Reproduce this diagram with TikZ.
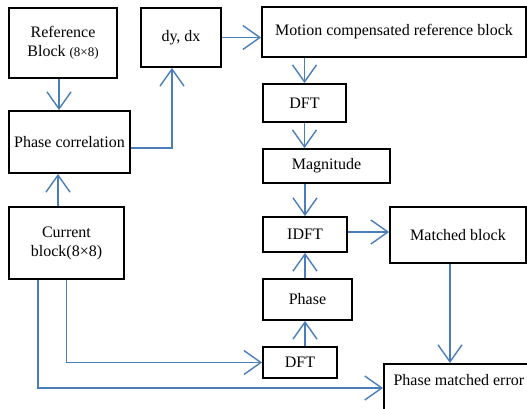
\documentclass[tikz,border=0pt]{standalone}
\usepackage{fontspec}
\setmainfont{Liberation Serif}
\usetikzlibrary{arrows.meta}
\definecolor{flowblue}{RGB}{74,126,187}
\begin{document}
\begin{tikzpicture}[x=1pt,y=-1pt,
  blk/.style={draw,line width=1.8pt,inner sep=0pt,align=center,
    font=\rmfamily\fontsize{16}{19}\selectfont},
  flow/.style={draw=flowblue,line width=1.4pt,
    -{Straight Barb[length=17pt,width=24pt]}}]
  \useasboundingbox (0,0) rectangle (527,408);
  \clip (0,0) rectangle (527,408);

  \node[blk,minimum width=108,minimum height=70] (ref) at (63,43)
    {Reference\\Block {\fontsize{13}{19}\selectfont(8×8)}};
  \node[blk,minimum width=121,minimum height=62] (pc) at (69.5,142) {Phase correlation};
  \node[blk,minimum width=115,minimum height=72] (cur) at (66.5,243) {Current\\block(8×8)};
  \node[blk,minimum width=80,minimum height=59] (dydx) at (181,37.5) {dy, dx};

  \node[blk,minimum width=264,minimum height=50] (mcrb) at (394,32)
    {Motion compensated reference block};
  \node[blk,minimum width=83,minimum height=38] (dftA) at (304.5,103) {DFT};
  \node[blk,minimum width=127,minimum height=34] (mag) at (326.5,166) {Magnitude};
  \node[blk,minimum width=84,minimum height=35] (idft) at (305,234.5) {IDFT};
  \node[blk,minimum width=89,minimum height=41] (phase) at (307.5,299.5) {Phase};
  \node[blk,minimum width=74,minimum height=31] (dftB) at (300,362.5) {DFT};
  \node[blk,minimum width=136,minimum height=56] (mb) at (458,235) {Matched block};
  \node[blk,minimum width=150,anchor=north west,text height=22pt,text depth=40pt]
    (pme) at (383,363) {Phase matched error};

  % left column
  \draw[flow] ([xshift=-4pt]ref.south) -- ([xshift=-4pt]ref.south |- pc.north);
  \draw[flow] ([xshift=-8.5pt]cur.north) -- ([xshift=-8.5pt]cur.north |- pc.south);
  \draw[flow] ([yshift=-6pt]pc.east) -| ([xshift=-9pt]dydx.south);
  \draw[flow] (dydx.east) -- (dydx.east -| mcrb.west);

  % right column
  \draw[flow] (dftA.north |- mcrb.south) -- (dftA.north);
  \draw[flow] (dftA.south) -- (dftA.south |- mag.north);
  \draw[flow] (mag.south -| idft.north) -- (idft.north);
  \draw[flow] (phase.north -| idft.south) -- (idft.south);
  \draw[flow] (dftB.north -| idft.south) -- (idft.south |- phase.south);
  \draw[flow] ([yshift=2.5pt]idft.east) -- ([yshift=2.5pt]idft.east -| mb.west);
  \draw[flow] ([xshift=-8pt]mb.south) -- ([xshift=-8pt]mb.south |- pme.north);

  % current block to the bottom
  \draw[flow] (cur.south) |- (dftB.west);
  \draw[flow] ([xshift=-28.5pt]cur.south) |- ([yshift=-25pt]pme.north west);
\end{tikzpicture}
\end{document}
